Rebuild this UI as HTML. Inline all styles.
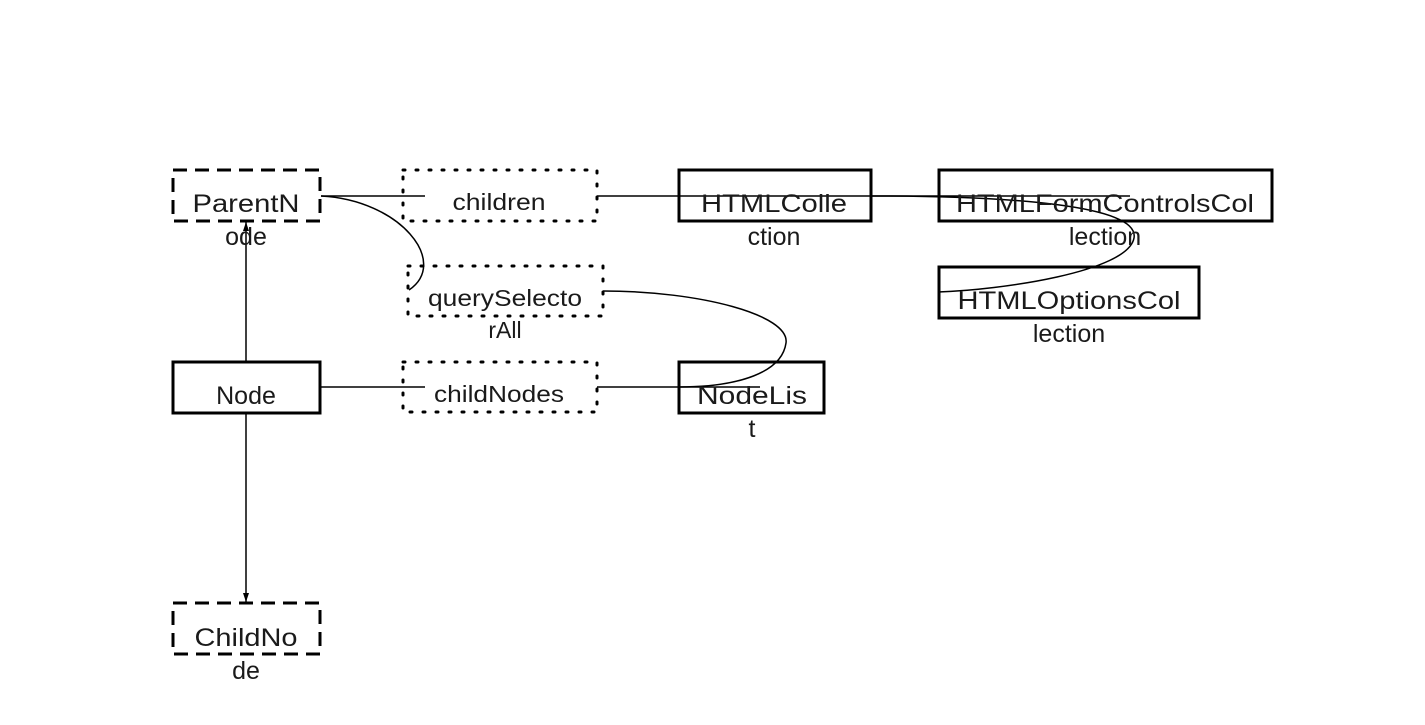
<!DOCTYPE html>
<html><head><meta charset="utf-8"><style>html,body{margin:0;background:#fff}svg{display:block}</style></head>
<body>
<svg width="1425" height="725" viewBox="0 0 1425 725" xmlns="http://www.w3.org/2000/svg" font-family="Liberation Sans, sans-serif" fill="none" stroke="#000">
<defs><marker id="a" markerWidth="10" markerHeight="8" refX="9" refY="4" orient="auto" markerUnits="userSpaceOnUse"><path d="M0,1 L9,4 L0,7 Z" fill="#000" stroke="none"/></marker></defs>
<g stroke-width="3">
<rect x="173" y="170" width="147" height="51" stroke-dasharray="14,8"/>
<rect x="173" y="603" width="147" height="51" stroke-dasharray="14,8"/>
<rect x="173" y="362" width="147" height="51"/>
<rect x="679" y="170" width="192" height="51"/>
<rect x="939" y="170" width="333" height="51"/>
<rect x="939" y="267" width="260" height="51"/>
<rect x="679" y="362" width="145" height="51"/>
</g>
<g stroke-width="3" stroke-dasharray="2,11" stroke-linecap="round">
<rect x="403" y="170" width="194" height="51"/>
<rect x="408" y="266" width="195" height="50"/>
<rect x="403" y="362" width="194" height="50"/>
</g>
<g stroke-width="1.5">
<line x1="321" y1="196" x2="425" y2="196"/>
<line x1="597" y1="196" x2="871" y2="196"/>
<line x1="871" y1="196" x2="1130" y2="196"/>
<path d="M871,196 C1010,196 1140,205 1134,238 C1128,272 1000,290 938,292"/>
<path d="M321,196 C400,200 450,262 409,290"/>
<path d="M603,291 C700,291 790,315 786,343 C782,372 740,387 678,387"/>
<line x1="321" y1="387" x2="425" y2="387"/>
<line x1="597" y1="387" x2="760" y2="387"/>
<line x1="246" y1="361" x2="246" y2="222" marker-end="url(#a)"/>
<line x1="246" y1="413" x2="246" y2="602" marker-end="url(#a)"/>
</g>
<g fill="#1a1a1a" stroke="none" font-size="25" text-anchor="middle">
<text x="246" y="212" textLength="107" lengthAdjust="spacingAndGlyphs">ParentN</text><text x="246" y="245">ode</text>
<text x="246" y="404">Node</text>
<text x="246" y="646" textLength="103" lengthAdjust="spacingAndGlyphs">ChildNo</text><text x="246" y="679">de</text>
<text x="774" y="212" textLength="146" lengthAdjust="spacingAndGlyphs">HTMLColle</text><text x="774" y="245">ction</text>
<text x="1105" y="212" textLength="298" lengthAdjust="spacingAndGlyphs">HTMLFormControlsCol</text><text x="1105" y="245">lection</text>
<text x="1069" y="309" textLength="223" lengthAdjust="spacingAndGlyphs">HTMLOptionsCol</text><text x="1069" y="342">lection</text>
<text x="752" y="404" textLength="110" lengthAdjust="spacingAndGlyphs">NodeLis</text><text x="752" y="437">t</text>
</g>
<g fill="#1a1a1a" stroke="none" font-size="23" text-anchor="middle">
<text x="499" y="210" textLength="93" lengthAdjust="spacingAndGlyphs">children</text>
<text x="505" y="306" textLength="154" lengthAdjust="spacingAndGlyphs">querySelecto</text><text x="505" y="338">rAll</text>
<text x="499" y="402" textLength="130" lengthAdjust="spacingAndGlyphs">childNodes</text>
</g>
</svg>
</body></html>
